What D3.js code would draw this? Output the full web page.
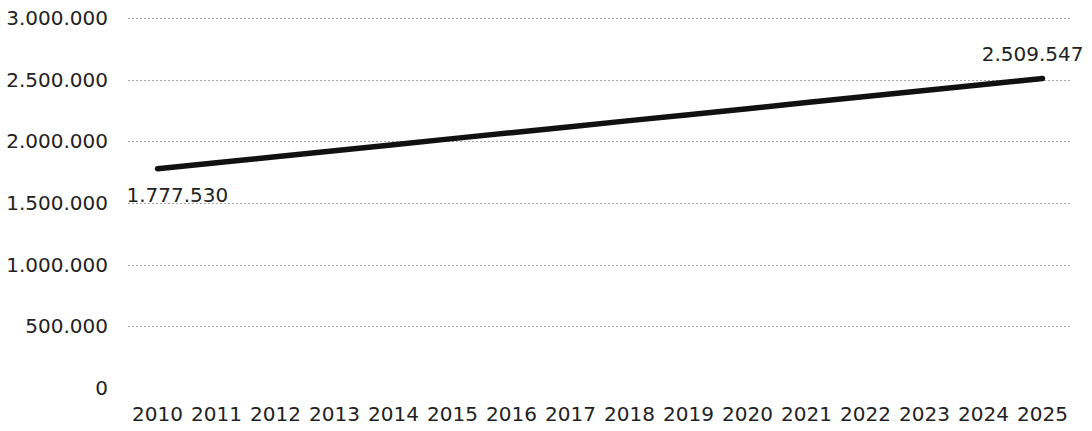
<!DOCTYPE html>
<html>
<head>
<meta charset="utf-8">
<script src="https://cdn.jsdelivr.net/npm/d3@7"></script>
<style>
  html, body { margin: 0; padding: 0; background: #fff; }
  svg { display: block; }
  text { font-family: "DejaVu Sans", Verdana, sans-serif; fill: #222; }
</style>
</head>
<body>
<svg id="chart" width="1092" height="431"></svg>
<script>
const years = ["2010","2011","2012","2013","2014","2015","2016","2017","2018","2019","2020","2021","2022","2023","2024","2025"];
const values = [1777530,1826000,1875000,1924000,1973000,2022000,2070000,2119000,2168000,2216000,2265000,2314000,2363000,2412000,2461000,2509547];
const yTicks = [0,500000,1000000,1500000,2000000,2500000,3000000];

const svg = d3.select("#chart");
const margin = {left: 128, right: 20, top: 18, bottom: 42};
const W = 1092, H = 431;
const FS = 20;

const x = d3.scaleBand().domain(years).range([margin.left, W - margin.right]).padding(0);
const y = d3.scaleLinear().domain([0, 3000000]).range([H - margin.bottom - 1, margin.top]);

const loc = d3.formatLocale({decimal: ",", thousands: ".", grouping: [3], currency: ["", ""]});
const fmt = loc.format(",d");

// gridlines
svg.append("g")
  .selectAll("line").data(yTicks.filter(d => d > 0)).join("line")
  .attr("x1", margin.left).attr("x2", W - margin.right)
  .attr("y1", d => Math.round(y(d)) + 0.5).attr("y2", d => Math.round(y(d)) + 0.5)
  .attr("stroke", "#a8a8a8").attr("stroke-width", 1)
  .attr("stroke-dasharray", "2,2");

// y axis
const yAxis = svg.append("g")
  .attr("transform", `translate(${margin.left - 20},0)`)
  .call(d3.axisLeft(y).tickValues(yTicks).tickFormat(fmt).tickSize(0).tickPadding(0));
yAxis.select(".domain").remove();
yAxis.selectAll("text").attr("font-size", FS).attr("fill", "#222")
  .style("font-family", "'DejaVu Sans', Verdana, sans-serif");

// x axis
const xAxis = svg.append("g")
  .attr("transform", `translate(0,${H - margin.bottom + 10})`)
  .call(d3.axisBottom(x).tickSize(0).tickPadding(8));
xAxis.select(".domain").remove();
xAxis.selectAll("text").attr("font-size", FS).attr("fill", "#222")
  .style("font-family", "'DejaVu Sans', Verdana, sans-serif");

// line
const data = years.map((yr, i) => ({year: yr, value: values[i]}));
const line = d3.line().x(d => x(d.year) + x.bandwidth() / 2).y(d => y(d.value));
svg.append("path").datum(data)
  .attr("d", line)
  .attr("fill", "none")
  .attr("stroke", "#111")
  .attr("stroke-width", 5.5)
  .attr("stroke-linecap", "round");

// end labels
const first = data[0], last = data[data.length - 1];
svg.append("text")
  .attr("x", x(first.year) + x.bandwidth() / 2 - 31)
  .attr("y", y(first.value) + 33)
  .attr("font-size", FS)
  .text(fmt(first.value));
svg.append("text")
  .attr("x", x(last.year) + x.bandwidth() / 2 + 41)
  .attr("y", y(last.value) - 17)
  .attr("text-anchor", "end")
  .attr("font-size", FS)
  .text(fmt(last.value));
</script>
</body>
</html>
